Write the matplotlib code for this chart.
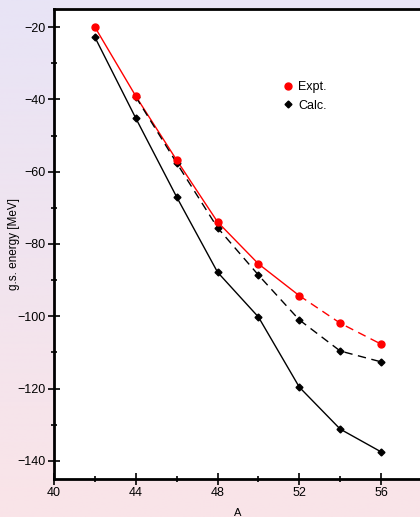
import numpy as np
import matplotlib.pyplot as plt
from matplotlib.lines import Line2D

plt.rcParams['font.family'] = ['Liberation Sans', 'DejaVu Sans']

# 数据
A = [42, 44, 46, 48, 50, 52, 54, 56]
expt = [-20.0, -39.1, -56.8, -73.9, -85.5, -94.3, -101.9, -107.7]
calc_solid = [-22.8, -45.2, -67.0, -87.8, -100.2, -119.6, -131.2, -137.5]
A_dash = [44, 46, 48, 50, 52, 54, 56]
calc_dash = [-39.3, -57.6, -75.5, -88.6, -101.0, -109.6, -112.6]

fig = plt.figure(figsize=(4.2, 5.17), dpi=100)

# 背景渐变
bg = fig.add_axes([0, 0, 1, 1], zorder=-10)
grad = np.linspace(0, 1, 256).reshape(-1, 1)
top = np.array([232, 228, 246]) / 255
bot = np.array([250, 228, 232]) / 255
img = top[None, None, :] * (1 - grad[:, :, None]) + bot[None, None, :] * grad[:, :, None]
bg.imshow(img, aspect='auto', extent=[0, 1, 0, 1])
bg.axis('off')

ax = fig.add_axes([54 / 420, 1 - 479 / 517, 368 / 420, 470 / 517])
ax.set_facecolor('white')

# 实验值：42-52 实线，52-56 虚线
ax.plot(A[:6], expt[:6], color='red', lw=1.0)
ax.plot(A[5:], expt[5:], color='red', lw=1.0, ls=(0, (6, 4)))
ax.plot(A, expt, 'o', color='red', ms=5, zorder=5)

# 计算值
ax.plot(A, calc_solid, color='black', lw=1.0, marker='D', ms=3.5)
ax.plot(A_dash, calc_dash, color='black', lw=1.0, ls=(0, (6, 4)), marker='D', ms=3.5)

ax.set_xlim(40, 58)
ax.set_ylim(-145, -15)
ax.set_xticks([40, 44, 48, 52, 56])
ax.set_xticks([42, 46, 50, 54], minor=True)
ax.set_yticks([-140, -120, -100, -80, -60, -40, -20])
ax.set_yticks([-130, -110, -90, -70, -50, -30], minor=True)
ax.set_yticklabels(['\u2212140', '\u2212120', '\u2212100', '\u221280', '\u221260', '\u221240', '\u221220'])

ax.tick_params(which='major', direction='inout', length=8, width=1.2, labelsize=9, pad=2)
ax.tick_params(which='minor', direction='inout', length=5, width=1.2)
for s in ax.spines.values():
    s.set_linewidth(2)

ax.set_xlabel('A', fontsize=8, labelpad=6)
ax.set_ylabel('g.s. energy [MeV]', fontsize=8.5)
ax.yaxis.set_label_coords(-0.092, 0.5)

handles = [
    Line2D([], [], ls='none', marker='o', color='red', ms=5),
    Line2D([], [], ls='none', marker='D', color='black', ms=3.5),
]
ax.legend(handles, ['Expt.', 'Calc.'], loc='upper left', bbox_to_anchor=(0.585, 0.87),
          frameon=False, fontsize=9, handletextpad=0.2, handlelength=1.2, labelspacing=0.5)

plt.savefig('out.png', dpi=100)
